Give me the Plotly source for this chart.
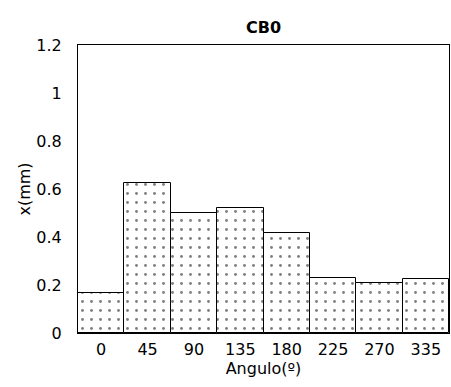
import plotly.graph_objects as go

angles = ["0", "45", "90", "135", "180", "225", "270", "335"]
values = [0.165, 0.626, 0.499, 0.522, 0.418, 0.228, 0.207, 0.226]
y_ticks = [0, 0.2, 0.4, 0.6, 0.8, 1, 1.2]
y_tick_labels = ["0", "0.2", "0.4", "0.6", "0.8", "1", "1.2"]

fig = go.Figure(go.Bar(
    x=angles, y=values,
    marker=dict(color="white", line=dict(color="black", width=1),
                pattern=dict(shape=".", fgcolor="black", bgcolor="white", size=9, solidity=0.08)),
))

font = "DejaVu Sans, sans-serif"
fig.update_layout(
    width=451, height=387,
    margin=dict(l=78, r=2, t=45, b=54),
    paper_bgcolor="white", plot_bgcolor="white",
    bargap=0,
    showlegend=False,
    font=dict(family=font, color="black", size=16),
    title=dict(text="<b>CB0</b>", x=(78 + 449) / 2 / 451, xanchor="center", y=1 - 27 / 387, yanchor="middle",
               font=dict(size=16, family=font, color="black")),
    xaxis=dict(type="category", showline=True, linecolor="black", linewidth=1, mirror=True,
               ticks="", showgrid=False, tickfont=dict(size=16), ticklabelstandoff=2,
               title=dict(text="Angulo(º)", font=dict(size=16), standoff=1)),
    yaxis=dict(range=[0, 1.2], tickvals=y_ticks, ticktext=y_tick_labels, showline=True,
               linecolor="black", linewidth=1, mirror=True, ticks="", showgrid=False,
               zeroline=False, tickfont=dict(size=16), ticklabelstandoff=12,
               title=dict(text="x(mm)", font=dict(size=16), standoff=1)),
)
fig.write_html("out.html")
